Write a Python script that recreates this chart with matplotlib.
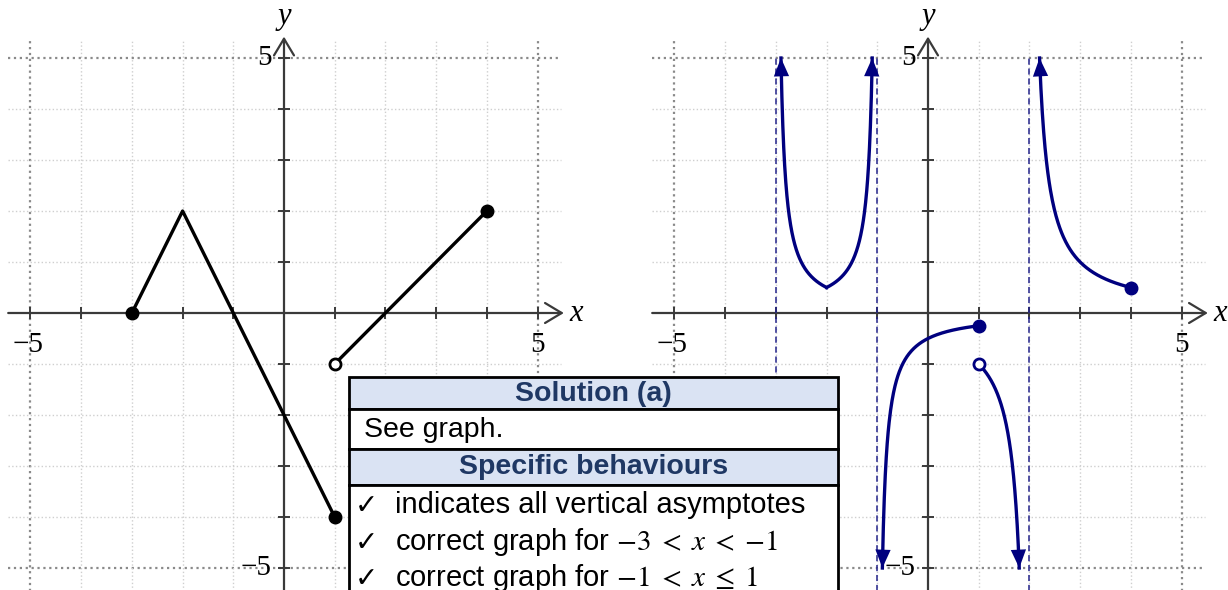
import matplotlib
matplotlib.use("Agg")
import matplotlib.pyplot as plt
from matplotlib.patches import Rectangle
import numpy as np

plt.rcParams['mathtext.fontset'] = 'stix'

# piecewise linear f(x): each piece is a list of vertices
pieces_x = [[-3, -2, 1], [1, 4]]
pieces_y = [[0, 2, -4], [-1, 2]]
closed_pts = [(-3, 0), (1, -4), (4, 2)]
open_pts = [(1, -1)]

# reciprocal graph 1/f(x)
asymptotes = [-3, -1, 2]
recip_closed = [(1, -0.25), (4, 0.5)]
recip_open = [(1, -1)]
clip_val = 5

ticks = [-5, -4, -3, -2, -1, 1, 2, 3, 4, 5]
tick_labels_x = {-5: "\u22125", 5: "5"}
tick_labels_y = {5: "5", -5: "\u22125"}

NAVY = "#00007f"
AXC = "#3a3a3a"

W, H = 1228, 590
fig = plt.figure(figsize=(W / 100, H / 100), dpi=100)

ux, uy = 50.7, 51.0
xlo, xhi, ylo, yhi = -5.6, 5.6, -5.45, 5.55


def make_axes(origin_px):
    left = origin_px + xlo * ux
    top = 313 - yhi * uy
    w = (xhi - xlo) * ux
    h = (yhi - ylo) * uy
    ax = fig.add_axes([left / W, (H - top - h) / H, w / W, h / H])
    ax.set_xlim(xlo, xhi)
    ax.set_ylim(ylo, yhi)
    ax.axis("off")
    return ax


def draw_frame(ax):
    # grid
    for v in range(-5, 6):
        if v == 0:
            continue
        major = abs(v) == 5
        c = "#8a8a8a" if major else "#cfcfcf"
        lw = 1.6 if major else 1.0
        ax.plot([v, v], [-5.45, 5.35], ls=":", color=c, lw=lw, zorder=1)
        ax.plot([-5.44, 5.46], [v, v], ls=":", color=c, lw=lw, zorder=1)
    # axes with open arrowheads
    ax.annotate("", xy=(5.52, 0), xytext=(-5.44, 0),
                arrowprops=dict(arrowstyle="->,head_length=0.5,head_width=0.3",
                                mutation_scale=24, lw=1.6, color=AXC,
                                shrinkA=0, shrinkB=0), zorder=2)
    ax.annotate("", xy=(0, 5.42), xytext=(0, -5.5),
                arrowprops=dict(arrowstyle="->,head_length=0.5,head_width=0.3",
                                mutation_scale=24, lw=1.6, color=AXC,
                                shrinkA=0, shrinkB=0), zorder=2)
    ax.plot(ticks, [0] * len(ticks), ls="none", marker="|", ms=9, mew=1.4,
            color=AXC, zorder=2)
    ax.plot([0] * len(ticks), ticks, ls="none", marker="_", ms=9, mew=1.4,
            color=AXC, zorder=2)
    for v, s in tick_labels_x.items():
        ax.text(v - 0.05 if v < 0 else v, -0.62, s, ha="center", va="center",
                fontsize=21, family="Liberation Serif", zorder=3)
    for v, s in tick_labels_y.items():
        ax.text(-0.24, v, s, ha="right", va="center",
                fontsize=21, family="Liberation Serif", zorder=3)
    ax.text(5.62, 0, "x", ha="left", va="center", fontsize=22,
            family="Liberation Serif", style="italic", clip_on=False)
    ax.text(0, 5.82, "y", ha="center", va="center", fontsize=22,
            family="Liberation Serif", style="italic", clip_on=False)


# left: y = f(x)
ax1 = make_axes(284)
draw_frame(ax1)
for px, py in zip(pieces_x, pieces_y):
    ax1.plot(px, py, color="black", lw=2.4, zorder=4, solid_capstyle="round")
for x, y in closed_pts:
    ax1.plot(x, y, "o", ms=9, color="black", zorder=5)
for x, y in open_pts:
    ax1.plot(x, y, "o", ms=8, mfc="white", mec="black", mew=2, zorder=5)

# right: y = 1/f(x)
ax2 = make_axes(928)
draw_frame(ax2)
for a in asymptotes:
    ax2.plot([a, a], [-5.5, 5], ls=(0, (4, 2.5)), color="#23238a", lw=1.1, zorder=3)

limit = 1.0 / clip_val
for px, py in zip(pieces_x, pieces_y):
    for i in range(len(px) - 1):
        x0, x1 = px[i], px[i + 1]
        y0, y1 = py[i], py[i + 1]
        m = (y1 - y0) / (x1 - x0)
        # split segment at its zero (vertical asymptote of 1/f)
        parts = [(x0, x1)]
        if y0 * y1 < 0:
            xz = x0 - y0 / m
            parts = [(x0, xz), (xz, x1)]
        for a, b in parts:
            # trim ends where |f| < 1/clip_val
            fa, fb = y0 + m * (a - x0), y0 + m * (b - x0)
            if abs(fa) < limit:
                a = a + (np.sign(fb) * limit - fa) / m
            if abs(fb) < limit:
                b = b + (np.sign(fa) * limit - fb) / m
            xs = np.linspace(a, b, 200)
            ys = 1.0 / (y0 + m * (xs - x0))
            ax2.plot(xs, ys, color=NAVY, lw=2.4, zorder=4)
            for end in (0, -1):
                if abs(ys[end]) >= clip_val - 1e-6:
                    prev = 8 if end == 0 else -9
                    ax2.annotate("", xy=(xs[end], ys[end]),
                                 xytext=(xs[prev], ys[prev]),
                                 arrowprops=dict(arrowstyle="-|>,head_length=0.6,head_width=0.25",
                                                 mutation_scale=22, lw=0,
                                                 color=NAVY, shrinkA=0, shrinkB=0),
                                 zorder=5)
for x, y in recip_closed:
    ax2.plot(x, y, "o", ms=9, color=NAVY, zorder=5)
for x, y in recip_open:
    ax2.plot(x, y, "o", ms=8, mfc="white", mec=NAVY, mew=2, zorder=5)

# marking table laid over both graphs
ov = fig.add_axes([0, 0, 1, 1], zorder=10)
ov.set_xlim(0, W)
ov.set_ylim(H, 0)
ov.axis("off")
ov.patch.set_alpha(0)

tl, tr = 349, 838
rows = [(377, 409, "#dae3f3"), (409, 449, "white"), (449, 485, "#dae3f3"),
        (485, 600, "white")]
for top, bot, fc in rows:
    ov.add_patch(Rectangle((tl, top), tr - tl, bot - top, fc=fc, ec="black",
                           lw=2, zorder=10))

sans = ["Liberation Sans", "DejaVu Sans"]
hdr = "#1f3864"
ov.text((tl + tr) / 2, 394, "Solution (a)", ha="center", va="center",
        fontsize=20.5, weight="bold", color=hdr, family=sans, zorder=11)
ov.text(364, 430, "See graph.", ha="left", va="center", fontsize=20.5,
        family=sans, zorder=11)
ov.text((tl + tr) / 2, 467, "Specific behaviours", ha="center", va="center",
        fontsize=20.5, weight="bold", color=hdr, family=sans, zorder=11)
items = ["indicates all vertical asymptotes",
         "correct graph for ${-3}\\;<\\;x\\;<\\;{-1}$",
         "correct graph for ${-1}\\;<\\;x\\;\\leq\\;1$"]
for i, s in enumerate(items):
    y = 505 + 36.5 * i
    ov.text(355, y + 1, "\u2713", ha="left", va="center", fontsize=20,
            family="DejaVu Sans", zorder=11)
    ov.text(395, y, s, ha="left", va="center", fontsize=21,
            family=sans, zorder=11)

fig.savefig("out.png", dpi=100)
